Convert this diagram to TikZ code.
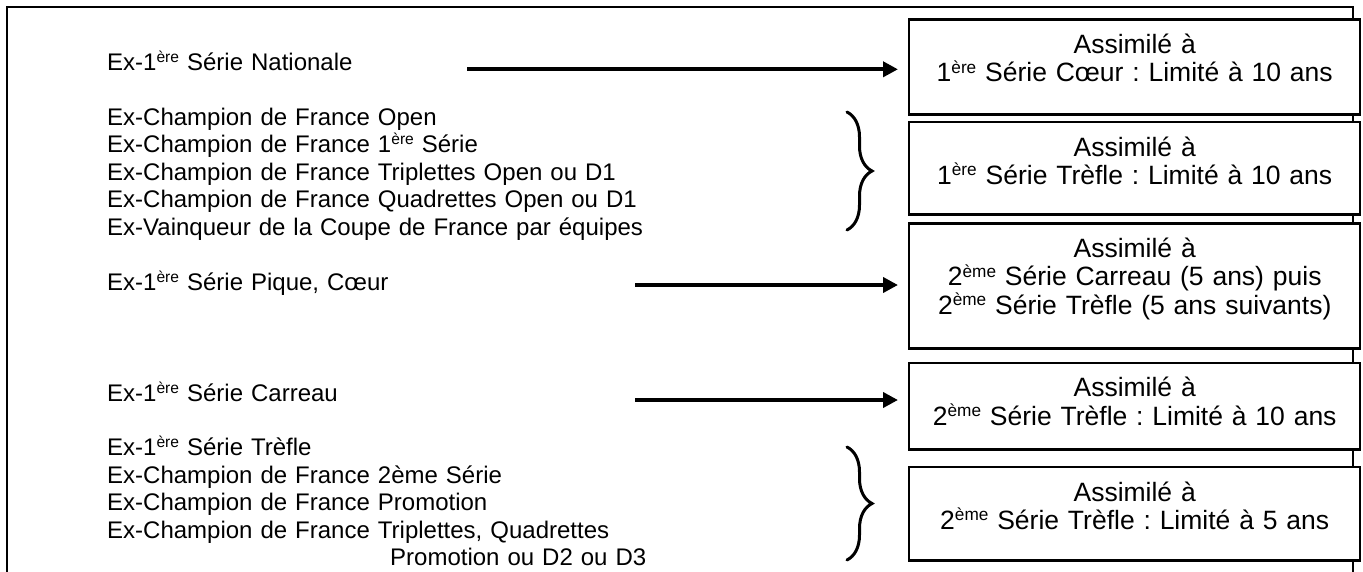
\documentclass[tikz,border=0pt]{standalone}
\usepackage{fontspec}
\setmainfont{Liberation Sans}
\usetikzlibrary{arrows.meta,decorations.pathreplacing}
\frenchspacing
\newcommand\gauche{\fontsize{24}{27.5}\selectfont}
\newcommand\boite{\fontsize{26.5}{28.3}\selectfont}
\makeatletter
\newcommand\expo[1]{\raisebox{.33em}{\@tempdima=.65\dimexpr\f@size pt\relax
  \fontsize{\strip@pt\@tempdima}{0}\selectfont#1}}
\makeatother
\tikzset{
  cadre/.style={line width=2.7pt},
  liste/.style={anchor=base west,inner sep=0pt,text width=620pt,align=left,font=\gauche},
  rang/.style={draw,fill=white,line width=2.4pt,inner sep=0pt,anchor=north west,
    text width=451pt,align=center,text height=34pt,font=\boite},
  fleche/.style={line width=4pt,-{Triangle[length=15pt,width=15pt]},shorten >=10pt},
  accolade/.style={line width=3pt,line cap=round,decorate,decoration={brace,amplitude=25pt}}
}
\begin{document}
\begin{tikzpicture}[x=1pt,y=-1pt]
\useasboundingbox (0,0) rectangle (1363,571);
\clip (0,0) rectangle (1363,571);
% cadre
\draw[cadre] (7,590)--(7,7)--(1353,7)--(1353,590);
% colonne de gauche
\node[liste] (nat) at (107,70) {Ex-1\expo{ère} Série Nationale};
\node[liste] (champ) at (107,125) {Ex-Champion de France Open\\
  Ex-Champion de France 1\expo{ère} Série\\
  Ex-Champion de France Triplettes Open ou D1\\
  Ex-Champion de France Quadrettes Open ou D1\\
  Ex-Vainqueur de la Coupe de France par équipes};
\node[liste] (pique) at (107,290) {Ex-1\expo{ère} Série Pique, Cœur};
\node[liste] (carreau) at (107,401.7) {Ex-1\expo{ère} Série Carreau};
\node[liste] (trefle) at (107,455.7) {Ex-1\expo{ère} Série Trèfle\\
  Ex-Champion de France 2ème Série\\
  Ex-Champion de France Promotion\\
  Ex-Champion de France Triplettes, Quadrettes\\
  \hspace*{283pt}Promotion ou D2 ou D3};
% cases de droite
\node[rang,text depth=61pt] (b1) at (908,18.3) {Assimilé à\\1\expo{ère} Série Cœur : Limité à 10 ans};
\node[rang,text depth=58.3pt] (b2) at (908,121) {Assimilé à\\1\expo{ère} Série Trèfle : Limité à 10 ans};
\node[rang,text depth=91pt] (b3) at (908,222.3) {Assimilé à\\2\expo{ème} Série Carreau (5 ans) puis\\2\expo{ème} Série Trèfle (5 ans suivants)};
\node[rang,text depth=52.6pt] (b4) at (908,361.7) {Assimilé à\\2\expo{ème} Série Trèfle : Limité à 10 ans};
\node[rang,text depth=59.3pt] (b5) at (908,466) {Assimilé à\\2\expo{ème} Série Trèfle : Limité à 5 ans};
% fleches
\coordinate (s1) at (467,69.3);
\coordinate (s2) at (635,285);
\coordinate (s3) at (635,400);
\draw[fleche] (s1)--(s1-|b1.west);
\draw[fleche] (s2)--(s2-|b3.west);
\draw[fleche] (s3)--(s3-|b4.west);
% accolades
\coordinate (h1) at (847,112);
\coordinate (k1) at (847,230);
\coordinate (h2) at (847,447);
\coordinate (k2) at (847,560);
\draw[accolade] (h1)--(k1);
\draw[accolade] (h2)--(k2);
\end{tikzpicture}
\end{document}
